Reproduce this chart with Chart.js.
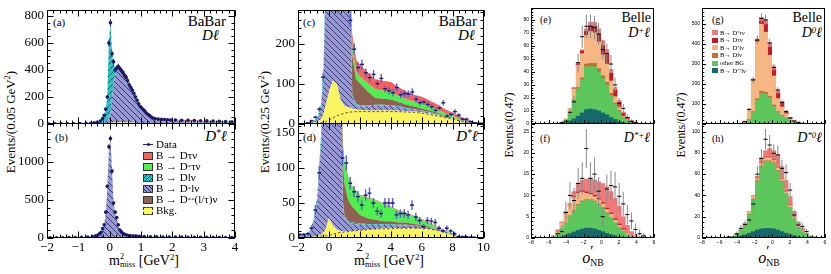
<!DOCTYPE html>
<html>
<head>
<meta charset="utf-8">
<title>B to D(*) tau nu: BaBar and Belle fits</title>
<script src="https://cdn.jsdelivr.net/npm/chart.js@4.4.1/dist/chart.umd.min.js"></script>
<style>
  html, body { margin: 0; padding: 0; background: #fff; }
  body { width: 831px; height: 274px; position: relative; overflow: hidden; font-family: "Liberation Serif", "DejaVu Serif", serif; color: #000; }
  canvas { position: absolute; }
  sup { font-size: 0.62em; vertical-align: 0.5em; line-height: 0; }
  .t { position: absolute; white-space: nowrap; line-height: 1; }
  .it { font-style: italic; }
  .ss { display: inline-block; vertical-align: -0.32em; font-size: 0.6em; line-height: 1; font-style: normal; }
  .pr { font-size: 1.5em; line-height: 0.6; display: inline-block; }
  .yt { position: absolute; white-space: nowrap; line-height: 1; transform: translate(-50%, -50%) rotate(-90deg); }
  .xt { position: absolute; white-space: nowrap; line-height: 1; transform: translateX(-50%); }
  .leg { position: absolute; font-size: 11px; line-height: 1; z-index: 5; }
  .leg div { height: 11px; display: flex; align-items: center; white-space: nowrap; }
  .leg .sw { width: 10px; height: 8px; box-sizing: border-box; border: 1px solid #333; margin-right: 3px; flex: none; }
  .leg .dat { border: none; position: relative; background: linear-gradient(#1b1b68, #1b1b68) center / 100% 1px no-repeat; }
  .leg .dat i { position: absolute; left: 3.5px; top: 2.5px; width: 3px; height: 3px; border-radius: 50%; background: #1b1b68; }
  .bl { font-size: 6.5px; }
  .bl div { height: 7.6px; }
  .bl .sw { width: 6px; height: 5px; border: none; margin-right: 2px; }
</style>
</head>
<body>

<!-- panel labels -->
<div class="t" style="left:53px;top:17px;font-size:11px">(a)</div>
<div class="t" style="right:605px;top:14px;font-size:15px">BaBar</div>
<div class="t it" style="right:612px;top:28px;font-size:15px">Dℓ</div>
<div class="t" style="left:55px;top:132px;font-size:11px">(b)</div>
<div class="t it" style="right:604px;top:129px;font-size:15px">D<sup>*</sup>ℓ</div>

<div class="t" style="left:303px;top:17px;font-size:11px">(c)</div>
<div class="t" style="right:354px;top:14px;font-size:15px">BaBar</div>
<div class="t it" style="right:356px;top:28px;font-size:15px">Dℓ</div>
<div class="t" style="left:303px;top:132px;font-size:11px">(d)</div>
<div class="t it" style="right:353px;top:129px;font-size:15px">D<sup>*</sup>ℓ</div>

<div class="t" style="left:540px;top:15px;font-size:10px">(e)</div>
<div class="t" style="right:180px;top:11px;font-size:14px">Belle</div>
<div class="t it" style="right:181px;top:26px;font-size:14px">D<sup>+</sup>ℓ</div>
<div class="t" style="left:540px;top:134px;font-size:10px">(f)</div>
<div class="t it" style="right:181px;top:131px;font-size:14px">D<sup>*+</sup>ℓ</div>

<div class="t" style="left:712px;top:15px;font-size:10px">(g)</div>
<div class="t" style="right:9px;top:11px;font-size:14px">Belle</div>
<div class="t it" style="right:9px;top:26px;font-size:14px">D<sup>0</sup>ℓ</div>
<div class="t" style="left:712px;top:134px;font-size:10px">(h)</div>
<div class="t it" style="right:9px;top:131px;font-size:14px">D<sup>*0</sup>ℓ</div>

<!-- axis titles -->
<div class="yt" style="left:10px;top:122px;font-size:13px">Events/(0.05 GeV<sup>2</sup>)</div>
<div class="yt" style="left:264px;top:122px;font-size:13px">Events/(0.25 GeV<sup>2</sup>)</div>
<div class="yt" style="left:509px;top:125px;font-size:12px">Events/(0.47)</div>
<div class="yt" style="left:681px;top:125px;font-size:12px">Events/(0.47)</div>
<div class="xt" style="left:144px;top:253px;font-size:14px">m<span class="ss">2<br>miss</span> [GeV<sup>2</sup>]</div>
<div class="xt" style="left:389px;top:253px;font-size:14px">m<span class="ss">2<br>miss</span> [GeV<sup>2</sup>]</div>
<div class="xt it" style="left:593px;top:247px;font-size:16px">o<span class="ss"><span class="pr">′</span><br>NB</span></div>
<div class="xt it" style="left:769px;top:247px;font-size:16px">o<span class="ss"><span class="pr">′</span><br>NB</span></div>

<!-- legends -->
<div class="leg" style="left:143px;top:139px">
  <div><span class="sw dat"><i></i></span>Data</div>
  <div><span class="sw" style="background:rgb(246,98,98)"></span>B → Dτν</div>
  <div><span class="sw" style="background:rgb(80,238,80)"></span>B → D<sup>*</sup>τν</div>
  <div><span class="sw" style="background:repeating-linear-gradient(135deg,rgb(34,200,200) 0 2px,#0e3f48 2px 2.8px)"></span>B → Dlν</div>
  <div><span class="sw" style="background:repeating-linear-gradient(45deg,rgb(152,152,212) 0 2px,#23235c 2px 2.8px)"></span>B → D<sup>*</sup>lν</div>
  <div><span class="sw" style="background:rgb(142,98,80)"></span>B → D<sup>**</sup>(l/τ)ν</div>
  <div><span class="sw" style="background:rgb(250,244,96);border-style:dashed"></span>Bkg.</div>
</div>
<div class="leg bl" style="left:712px;top:29px">
  <div><span class="sw" style="background:rgb(240,122,122)"></span>B→ D<sup>*</sup>τν</div>
  <div><span class="sw" style="background:rgb(190,28,38)"></span>B→ Dτν</div>
  <div><span class="sw" style="background:rgb(246,182,132)"></span>B→ D<sup>*</sup>lν</div>
  <div><span class="sw" style="background:rgb(198,112,46)"></span>B→ Dlν</div>
  <div><span class="sw" style="background:rgb(92,198,92)"></span>other BG</div>
  <div><span class="sw" style="background:rgb(22,104,106)"></span>B→ D<sup>**</sup>lν</div>
</div>

<script>
// ---------------- BaBar (a): D l, m2miss, 0.05 GeV2 bins ----------------
const aGrid  = [-2,-1,-0.6,-0.4,-0.3,-0.2,-0.125,-0.075,-0.025,0.025,0.075,0.125,0.175,0.225,0.3,0.4,0.5,0.6,0.7,0.8,0.9,1.0,1.1,1.2,1.3,1.4,1.6,2.0,2.5,3.0,3.5,4.0];
const aBkg   = [0,0,0,0,1,2,3,5,6,8,10,11,12,12,12,12,12,11,11,10,8,6,5,5,4,4,3,3,3,2,2,2];
const aDsl   = [0,1,2,3,4,8,15,25,40,70,190,290,350,385,395,375,330,280,240,195,150,110,85,60,42,25,17,14,10,8,6,5];
const aDl    = [0,1,2,6,20,50,90,170,550,680,320,150,50,25,15,10,8,6,5,4,4,3,3,3,3,3,3,3,3,2,2,2];
const aDss   = [0,0,0,0,0,0,0,0,0,0,0,1,1,1,1,2,2,2,2,2,3,3,3,3,3,4,4,4,3,3,2,2];
const aDstau = [0,0,0,0,0,0,0,0,0,0,0,0,0,0,0,1,1,1,1,2,2,2,2,2,3,3,3,4,4,3,3,2];
const aDtau  = [0,0,0,0,0,0,0,0,0,0,0,0,0,0,1,1,2,2,2,3,3,4,4,5,5,6,6,6,6,6,5,4];
const aDataX = [-1.95,-1.75,-1.55,-1.35,-1.15,-0.95,-0.75,-0.6,-0.5,-0.4,-0.3,-0.225,-0.175,-0.125,-0.075,-0.025,0.025,0.075,0.125,0.175,0.225,0.275,0.325,0.375,0.425,0.475,0.525,0.575,0.625,0.675,0.725,0.775,0.825,0.875,0.925,0.975,1.025,1.075,1.125,1.175,1.225,1.275,1.325,1.375,1.45,1.55,1.65,1.75,1.85,1.95,2.1,2.3,2.5,2.7,2.9,3.1,3.3,3.5,3.7,3.9];
const aDataY = [0,1,1,2,2,3,4,6,9,12,22,40,65,110,200,600,750,520,460,400,415,425,410,395,380,360,345,320,290,270,250,225,200,175,150,130,118,105,95,80,70,62,52,44,40,36,34,33,32,30,29,28,27,25,24,23,22,20,18,16];
const aErr   = [1,1,1,1,1,2,2,2,3,3,5,6,8,10,14,25,27,23,21,20,20,21,20,20,19,19,19,18,17,16,16,15,14,13,12,11,11,10,10,9,8,8,7,7,6,6,6,6,6,5,5,5,5,5,5,5,5,4,4,4];

// ---------------- BaBar (b): D* l ----------------
const bGrid  = [-2,-1,-0.6,-0.45,-0.35,-0.275,-0.225,-0.175,-0.125,-0.075,-0.025,0.025,0.075,0.125,0.175,0.225,0.275,0.325,0.4,0.5,0.6,0.8,1.0,1.5,2,3,4];
const bBkg   = [0,1,3,4,5,5,6,6,7,8,8,8,8,8,8,7,7,6,6,5,5,4,4,3,3,2,2];
const bDsl   = [2,6,16,24,42,66,110,170,318,636,1135,1285,885,455,315,257,168,99,54,35,25,16,11,7,4,3,2];
const bDl    = [0,1,1,2,3,4,4,4,5,6,7,7,7,7,7,6,5,5,4,4,4,3,3,2,2,1,1];
const bDss   = [0,0,0,0,0,0,0,0,0,0,0,0,0,0,0,0,1,1,1,2,2,2,2,2,2,2,1];
const bDstau = [0,0,0,0,0,0,0,0,0,0,0,0,0,0,0,0,0,1,1,1,2,2,2,2,2,1,1];
const bDtau  = [0,0,0,0,0,0,0,0,0,0,0,0,0,0,0,0,0,0,0,1,1,1,1,1,1,1,0];
const bDataX = [-1.9,-1.7,-1.5,-1.3,-1.1,-0.9,-0.7,-0.55,-0.45,-0.375,-0.325,-0.275,-0.225,-0.175,-0.125,-0.075,-0.025,0.025,0.075,0.125,0.175,0.225,0.275,0.325,0.375,0.425,0.475,0.55,0.65,0.75,0.85,0.95,1.1,1.3,1.5,1.7,1.9,2.1,2.3,2.5,2.7,2.9,3.1,3.3,3.5,3.7,3.9];
const bDataY = [2,3,4,5,6,8,12,18,28,40,55,75,125,175,340,680,1200,1310,880,460,340,270,175,105,80,60,50,40,33,28,25,22,20,17,15,14,13,12,11,10,10,9,8,8,7,6,6];
const bErr   = [1,2,2,2,2,3,3,4,5,6,7,9,11,13,18,26,35,36,30,21,18,16,13,10,9,8,7,6,6,5,5,5,4,4,4,4,4,3,3,3,3,3,3,3,3,2,2];

// ---------------- BaBar (c): D l, 0.25 GeV2 bins ----------------
const cGrid  = [-2,-1.5,-1,-0.75,-0.5,-0.35,-0.25,0,0.25,0.5,0.75,1.0,1.25,1.4,1.5,1.75,2,2.5,3,3.5,4,4.5,5,5.5,6,6.5,7,7.5,8,8.5,9,9.5,10];
const cBkg   = [0,1,3,6,12,25,40,80,108,100,60,45,42,40,38,36,35,34,34,34,34,33,32,31,29,26,22,17,13,8,4,2,1];
const cDsl   = [0,1,3,6,30,95,250,1500,2000,1800,1200,700,400,250,30,12,9,10,12,12,11,10,6,5,4,3,2,1,1,0,0,0,0];
const cDl    = [0,0,1,4,10,30,40,300,300,200,100,50,20,10,5,3,2,2,2,2,2,2,2,1,1,1,1,0,0,0,0,0,0];
const cDss   = [0,0,0,0,0,0,0,5,10,10,10,10,15,25,100,60,55,35,17,15,14,10,8,7,5,4,3,2,1,0,0,0,0];
const cDstau = [0,0,0,0,0,0,0,0,0,5,10,15,15,15,20,20,17,20,21,20,19,15,13,11,12,10,8,6,5,3,2,1,0];
const cDtau  = [0,0,0,0,0,0,0,0,0,5,10,15,20,25,30,30,30,28,25,25,25,22,20,18,17,15,13,11,8,7,4,1,1];
const cCont  = [0,0,1,2,3,4,5,10,15,20,24,27,29,30,30,31,31,31,31,31,31,31,30,29,27,24,20,16,12,7,4,2,1];
const cDataX = [-1.875,-1.625,-1.375,-1.125,-0.875,-0.625,-0.375,1.375,1.625,1.875,2.125,2.375,2.625,2.875,3.125,3.375,3.625,3.875,4.125,4.375,4.625,4.875,5.125,5.375,5.625,5.875,6.125,6.375,6.625,6.875,7.125,7.375,7.625,7.875,8.125,8.375,8.625,8.875,9.125,9.375,9.625,9.875];
const cDataY = [0,1,3,8,17,37,117,259,187,141,149,128,116,124,101,114,88,83,78,91,73,76,75,80,62,53,55,49,43,34,40,53,20,24,31,22,12,12,6,3,2,2];
const cErr   = [1,1,2,3,4,6,11,16,14,12,12,11,11,11,10,11,9,9,9,10,9,9,9,9,8,7,7,7,7,6,6,7,5,5,6,5,4,4,3,2,2,2];

// ---------------- BaBar (d): D* l ----------------
const dGrid  = [-2,-1.5,-1.25,-1,-0.75,-0.5,-0.25,0,0.25,0.5,0.75,0.9,1.0,1.25,1.5,2,2.5,3,3.5,4,4.5,5,5.5,6,6.5,7,7.5,8,8.5,9,10];
const dBkg   = [0,0,1,2,3,5,10,28,18,12,10,10,10,10,10,11,12,13,14,14,14,14,14,14,13,11,8,5,2,1,0];
const dDsl   = [2,4,7,19,50,130,500,1200,1500,1000,300,40,20,12,10,8,7,6,5,5,4,4,3,3,2,1,1,0,0,0,0];
const dDl    = [1,1,2,4,7,15,40,60,40,20,5,3,2,2,2,2,1,1,1,1,1,1,1,0,0,0,0,0,0,0,0];
const dDss   = [0,0,0,0,0,0,0,5,10,20,40,60,46,30,23,12,8,6,4,4,3,3,2,2,1,1,0,0,0,0,0];
const dDstau = [0,0,0,0,0,0,0,5,10,15,20,26,33,33,29,28,29,28,25,20,17,13,11,7,5,2,1,1,0,0,0];
const dDtau  = [0,0,0,0,0,0,0,1,1,1,1,1,1,1,1,1,1,1,1,1,1,1,1,1,1,1,1,0,0,0,0];
const dCont  = [0,0,1,1,2,3,3,4,5,7,8,8,9,9,10,11,12,13,13,13,14,14,14,14,13,11,8,5,2,1,0];
const dDataX = [-1.875,-1.625,-1.375,-1.125,-0.875,-0.625,0.875,1.125,1.375,1.625,1.875,2.125,2.375,2.625,2.875,3.125,3.375,3.625,3.875,4.125,4.375,4.625,4.875,5.125,5.375,5.625,5.875,6.125,6.375,6.625,6.875,7.125,7.375,7.625,7.875,8.125,8.375,8.625,8.875,9.125,9.375,9.625,9.875];
const dDataY = [5,5,6,14,40,93,114,107,78,66,59,47,61,64,50,38,35,50,50,50,33,35,35,33,47,30,25,16,25,24,22,14,10,14,10,6,2,2,2,1,1,0,0];
const dErr   = [2,2,3,4,7,10,11,11,9,8,8,7,8,8,7,6,6,7,7,7,6,6,6,6,7,6,5,4,5,5,5,4,3,4,3,3,2,2,2,1,1,1,1];

// ---------------- Belle: o'_NB bin centres (30 bins, width 0.47) ----------------
const belleBins = [-7.7667,-7.3,-6.8333,-6.3667,-5.9,-5.4333,-4.9667,-4.5,-4.0333,-3.5667,-3.1,-2.6333,-2.1667,-1.7,-1.2333,-0.7667,-0.3,0.1667,0.6333,1.1,1.5667,2.0333,2.5,2.9667,3.4333,3.9,4.3667,4.8333,5.3,5.7667];

// (e) D+ l
const eDss   = [0,0,0,0,0,0,0.2,0.5,1,2.5,4,6,8.5,11,11.5,11,10,8.5,7,5,3.5,2,1.2,0.6,0.3,0.1,0,0,0,0];
const eOther = [0,0,0,0,0,0,0,0.5,2,5.5,14,21,25.5,33,32.5,33,30,26.5,23,17,11.5,8,3.8,2.4,1.2,0.5,0.3,0,0,0];
const eDl    = [0,0,0,0,0,0,0,0,0,0,0.5,1,1.5,2,2.5,2.5,2.5,2,2,1.5,1,0.5,0.3,0,0,0,0,0,0,0];
const eDsl   = [0,0,0,0,0,0,0,0,1,4,8.5,17,18.5,22,24.5,23.5,20.5,16,14,9.5,5,2.5,0.7,0.5,0.3,0.2,0,0,0,0];
const eDtau  = [0,0,0,0,0,0,0,0,0,0,0.5,1,2,3,4,5,6,7,7,6,5,3.5,2,1,0.5,0.2,0,0,0,0];
const eDstau = [0,0,0,0,0,0,0,0,0,0,0.5,1,1,2,3,3,4,4,4,3,2,1.5,1,0.5,0.2,0.1,0,0,0,0];
const eData  = [0,0,0,0,0,0,0,1,2,9,17,47,67,75,75,74,69,57,54,46,30,16,12,5,2,1,0,0,0,0];
const eErr   = [0,0,0,0,0,0,0,1,1.5,3,4.5,7,8.5,9,9,9,8.5,7.5,7.5,7,5.5,4,3.5,2.2,1.4,1,0,0,0,0];

// (f) D*+ l
const fDss   = [0,0,0,0,0,0,0.1,0.3,0.6,1,1.4,1.8,2.1,2.3,2.3,2.1,1.8,1.5,1.1,0.8,0.5,0.3,0.2,0.1,0,0,0,0,0,0];
const fOther = [0,0,0,0,0,0.2,0.9,1.9,2.9,4,4.8,5.9,6.4,6.5,6.5,6.4,5.9,5.4,4.6,4,3.1,2.2,1.4,0.7,0.4,0.1,0,0,0,0];
const fDl    = [0,0,0,0,0,0,0,0,0,0.2,0.2,0.2,0.2,0.2,0.2,0.2,0.2,0.2,0.2,0,0,0,0,0,0,0,0,0,0,0];
const fDsl   = [0,0,0,0,0,0,0.5,1.3,2,2.3,3.1,2.6,2.1,1.5,1.2,1,1.1,0.9,0.8,0.8,0.6,0.5,0.3,0.2,0.1,0,0,0,0,0];
const fDtau  = [0,0,0,0,0,0,0,0,0,0,0.3,0.3,0.3,0.3,0.3,0.3,0.3,0.3,0.3,0.3,0.3,0.3,0.3,0,0,0,0,0,0,0];
const fDstau = [0,0,0,0,0.2,0.3,0.4,0.3,0.7,0.6,1.1,2,2.5,3,3.5,3.6,3.9,4.5,5,5,4.8,4.1,2.8,2,1,0.5,0.2,0,0,0];
const fData  = [0,0,0,0,0,0,1,1.5,6,10,8.8,12.8,14,21,14,15,11,5,11.5,12.3,12,9.8,8,5.5,4,2,1,0.5,0,0];
const fErr   = [0,0,0,0,0,0,1,1.5,2.5,3.2,3,3.6,3.8,4.6,3.8,3.9,3.3,2.2,3.4,3.5,3.5,3.1,2.8,2.3,2,1.4,1,0.7,0,0];

// (g) D0 l
const gDss   = [0,0,0,0,0,0,0,0,0,0,0,1,2,3,4,4,3,3,2,2,1,1,0.5,0,0,0,0,0,0,0];
const gOther = [0,0,0,0,0,0,0,0,0,1,3,20,55,115,150,145,128,85,55,38,28,15,8,4,2,1,0.5,0,0,0];
const gDl    = [0,0,0,0,0,0,0,0,0,0,0,2,5,8,10,10,8,7,5,3,2,1,0.5,0,0,0,0,0,0,0];
const gDsl   = [0,0,0,0,0,0,0,0,1,2,12,50,158,285,335,300,205,145,65,42,20,9,4,2.5,1.5,1,0.5,0,0,0];
const gDtau  = [0,0,0,0,0,0,0,0,0,0,0,0,3,8,15,40,40,30,25,18,8,4,1.5,1,0.5,0,0,0,0,0];
const gDstau = [0,0,0,0,0,0,0,0,0,0,0,0,2,6,18,24,23,20,16,12,6,2,0.5,0.5,0,0,0,0,0,0];
const gData  = [0,0,0,0,0,0,0,0,0,3,12,73,220,420,528,520,405,282,170,107,62,30,15,8,3,1,0,0,0,0];
const gErr   = [0,0,0,0,0,0,0,0,0,2,4,9,16,22,25,25,22,18,14,11,8,6,4,3,2,1,0,0,0,0];

// (h) D*0 l
const hDss   = [0,0,0,0,0,0,0.3,0.5,1,2,3,4.5,6,7.5,8.5,9,9,8.5,7.5,6,4.5,3,2,1.2,0.6,0.3,0,0,0,0];
const hOther = [0,0,0,0,0,0.3,0.4,1,2.5,5,9,17.5,30,45.5,58.5,63,63,61.5,55.5,47,36.5,25,15,8.8,5.4,2.7,1.5,0.7,0.3,0];
const hDl    = [0,0,0,0,0,0,0,0,0,0,0.5,0.5,0.5,0.5,0.5,0.5,0.5,0.5,0.5,0.5,0.5,0.5,0.5,0,0,0,0,0,0,0];
const hDsl   = [0,0,0,0,0,0,0,0,0.5,0.7,1.2,2,2.5,3,3,3,3,2.5,2.5,2,2,2,1.5,1,0.6,0.3,0,0,0,0];
const hDtau  = [0,0,0,0,0,0,0,0,0,0,0,0,0,0.5,0.5,0.5,0.5,0.5,0.5,0.5,0.5,0.5,0,0,0,0,0,0,0,0];
const hDstau = [0,0,0,0,0,0,0,0,0.4,0.3,0.3,0.5,1,1,4,6,8,8.5,11.5,11,10,8,6,4,2.4,1.1,0.5,0.3,0,0];
const hData  = [0,0.5,0,0,0,0.3,1,0.5,4,9,12.8,16.9,31.9,60,74.8,92.7,87.3,79.5,78,65.4,61.4,45,21.6,12.2,10.6,6,0.7,0.5,0.3,0];
const hErr   = [0,0.7,0,0,0,0.5,1,0.7,2,3,3.6,4.1,5.6,7.7,8.6,9.6,9.3,8.9,8.8,8.1,7.8,6.7,4.6,3.5,3.3,2.4,0.8,0.7,0.5,0];

// ---------------- tick values ----------------
const babarXTicksAB = [-2,-1,0,1,2,3,4];
const babarXTicksCD = [-2,0,2,4,6,8,10];
const belleXTicks   = [-8,-6,-4,-2,0,2,4,6];
const aYTicks = [0,200,400,600,800];
const bYTicks = [0,500,1000];
const cYTicks = [0,100,200];
const dYTicks = [0,50,100,150];
const eYTicks = [0,10,20,30,40,50,60,70,80];
const fYTicks = [0,5,10,15,20,25];
const gYTicks = [0,100,200,300,400,500];
const hYTicks = [0,20,40,60,80,100];

// ---------------- styles ----------------
const C = { red: 'rgb(246,98,98)', green: 'rgb(80,238,80)', cyan: 'rgb(34,200,200)', lav: 'rgb(152,152,212)',
            brown: 'rgb(142,98,80)', bkg: 'rgb(250,244,96)', navy: '#1b1b68' };
const BC = [ 'rgb(22,104,106)', 'rgb(92,198,92)', 'rgb(198,112,46)', 'rgb(246,182,132)', 'rgb(190,28,38)', 'rgb(240,122,122)' ];

Chart.defaults.animation = false;
Chart.defaults.font.family = '"Liberation Serif", "DejaVu Serif", serif';
Chart.defaults.color = '#000';
Chart.defaults.plugins.legend.display = false;
Chart.defaults.plugins.tooltip.enabled = false;

const pts = (xs, ys) => xs.map((x, i) => ({ x, y: ys[i] }));

function hatch(ctx, bg, fg, dir) {
    const s = 6;
    const tile = document.createElement('canvas');
    tile.width = tile.height = s;
    const g = tile.getContext('2d');
    g.fillStyle = bg;
    g.fillRect(0, 0, s, s);
    g.strokeStyle = fg;
    g.lineWidth = 0.8;
    g.beginPath();
    if (dir > 0) {
        g.moveTo(0, s); g.lineTo(s, 0);
        g.moveTo(-1, 1); g.lineTo(1, -1);
        g.moveTo(s - 1, s + 1); g.lineTo(s + 1, s - 1);
    } else {
        g.moveTo(0, 0); g.lineTo(s, s);
        g.moveTo(s - 1, -1); g.lineTo(s + 1, 1);
        g.moveTo(-1, s - 1); g.lineTo(1, s + 1);
    }
    g.stroke();
    return ctx.createPattern(tile, 'repeat');
}

function stepsOf(min, max, st) {
    const out = [];
    for (let v = Math.ceil(min / st - 1e-9) * st; v <= max + 1e-9; v += st) out.push(v);
    return out;
}

// frame box with inward ticks, ROOT style
const frameTicks = {
    id: 'frameTicks',
    afterDraw(chart, args, o) {
        const { ctx, chartArea: a, scales: { x, y } } = chart;
        const l = Math.round(a.left) + 0.5, r = Math.round(a.right) - 0.5;
        const t = Math.round(a.top) + 0.5, b = Math.round(a.bottom) - 0.5;
        ctx.save();
        ctx.strokeStyle = '#000';
        ctx.lineWidth = 1;
        ctx.strokeRect(l, t, r - l, b - t);
        ctx.beginPath();
        const markX = (vals, len) => vals.forEach(v => {
            const p = Math.round(x.getPixelForValue(v)) + 0.5;
            ctx.moveTo(p, b); ctx.lineTo(p, b - len);
            if (o.mirror) { ctx.moveTo(p, t); ctx.lineTo(p, t + len); }
        });
        const markY = (vals, len) => vals.forEach(v => {
            const p = Math.round(y.getPixelForValue(v)) + 0.5;
            ctx.moveTo(l, p); ctx.lineTo(l + len, p);
            if (o.mirror) { ctx.moveTo(r, p); ctx.lineTo(r - len, p); }
        });
        markX(o.xMajor, o.major);
        markX(stepsOf(x.min, x.max, o.xStep), o.minor);
        markY(o.yMajor, o.major);
        markY(stepsOf(y.min, y.max, o.yStep), o.minor);
        ctx.stroke();
        ctx.restore();
    }
};

// vertical error bars and bin-width markers for data sets
const errorBars = {
    id: 'errorBars',
    afterDatasetsDraw(chart) {
        const { ctx, chartArea: a } = chart;
        ctx.save();
        ctx.beginPath();
        ctx.rect(a.left, a.top, a.right - a.left, a.bottom - a.top);
        ctx.clip();
        chart.data.datasets.forEach((ds, i) => {
            if (!ds.errs) return;
            const meta = chart.getDatasetMeta(i);
            const xs = meta.xScale, ys = meta.yScale;
            ds.data.forEach((p, k) => {
                const e = ds.errs[k];
                const px = xs.getPixelForValue(p.x), py = ys.getPixelForValue(p.y);
                if (e > 0) {
                    ctx.strokeStyle = ds.errColor;
                    ctx.lineWidth = ds.errWidth;
                    ctx.beginPath();
                    ctx.moveTo(px, ys.getPixelForValue(p.y - e));
                    ctx.lineTo(px, ys.getPixelForValue(p.y + e));
                    ctx.stroke();
                }
                if (ds.halfW) {
                    ctx.strokeStyle = ds.hColor;
                    ctx.lineWidth = ds.hWidth;
                    ctx.beginPath();
                    ctx.moveTo(xs.getPixelForValue(p.x - ds.halfW), py);
                    ctx.lineTo(xs.getPixelForValue(p.x + ds.halfW), py);
                    ctx.stroke();
                }
            });
        });
        ctx.restore();
    }
};

function axis(min, max, ticks, opt) {
    return {
        type: 'linear', min, max, stacked: opt.stacked, offset: false,
        grid: { display: false, drawTicks: false }, border: { display: false },
        afterBuildTicks: s => { s.ticks = ticks.map(v => ({ value: v })); },
        afterFit: s => { if (opt.horiz) s.height = opt.size; else s.width = opt.size; },
        ticks: { display: opt.show, autoSkip: false, maxRotation: 0, minRotation: 0, padding: opt.pad,
                 color: '#000', font: opt.font, callback: v => String(v).replace('-', '\u2212') }
    };
}

// frame = [left, top, right, bottom] of the plot box in page pixels
function panel(frame, m, showX, type, makeSets, sc, ticks) {
    const cv = document.createElement('canvas');
    cv.width = m[0] + frame[2] - frame[0] + m[2];
    cv.height = m[1] + frame[3] - frame[1] + m[3];
    cv.style.left = (frame[0] - m[0]) + 'px';
    cv.style.top = (frame[1] - m[1]) + 'px';
    document.body.appendChild(cv);
    const ctx = cv.getContext('2d');
    return new Chart(ctx, {
        type,
        data: { datasets: makeSets(ctx) },
        options: {
            responsive: false, devicePixelRatio: 1, events: [],
            layout: { padding: { left: 0, top: m[1], right: m[2], bottom: showX ? 0 : m[3] } },
            scales: {
                x: axis(sc.xMin, sc.xMax, sc.xTicks, { horiz: true, size: showX ? m[3] : 0, show: showX, pad: sc.xPad, font: sc.font, stacked: sc.xStacked }),
                y: axis(0, sc.yMax, sc.yTicks, { horiz: false, size: m[0], show: true, pad: sc.yPad, font: sc.font, stacked: true })
            },
            plugins: { frameTicks: ticks }
        },
        plugins: [frameTicks, errorBars]
    });
}

function babar(p) {
    const m = [40, 12, 8, p.showX ? 22 : 12];
    return panel(p.frame, m, p.showX, 'line', ctx => {
        const fills = [C.bkg, hatch(ctx, C.lav, '#23235c', -1), hatch(ctx, C.cyan, '#0e3f48', 1), C.brown, C.green, C.red];
        const sets = p.layers.map((v, i) => ({
            type: 'line', data: pts(p.grid, v), backgroundColor: fills[i], borderColor: 'rgba(0,0,0,0)',
            borderWidth: 0, pointRadius: 0, tension: 0, fill: i ? '-1' : 'origin', stack: 'mc', order: 2
        }));
        if (p.cont) sets.push({
            type: 'line', data: pts(p.grid, p.cont), borderColor: '#333', borderWidth: 0.8, borderDash: [2.5, 2],
            pointRadius: 0, tension: 0, fill: false, stack: 'cont', order: 1
        });
        sets.push({
            type: 'scatter', data: pts(p.dataX, p.dataY), pointRadius: p.dots ? 1.8 : 0,
            pointBackgroundColor: C.navy, pointBorderWidth: 0, stack: 'data', order: 0,
            errs: p.errs, errColor: p.dots ? C.navy : '#5563cc', errWidth: p.dots ? 1 : 1.4,
            halfW: p.dots ? 0 : 0.125, hColor: C.navy, hWidth: 1.4
        });
        return sets;
    }, {
        xMin: p.xMin, xMax: p.xMax, xTicks: p.xTicks, yMax: p.yMax, yTicks: p.yTicks,
        xPad: 2, yPad: 3, font: { size: 13, family: '"Liberation Serif", serif' }, xStacked: false
    }, { mirror: true, major: 6, minor: 3, xMajor: p.xTicks, xStep: p.xStep, yMajor: p.yTicks, yStep: p.yStep });
}

function belle(p) {
    const m = [22, 12, 6, p.showX ? 14 : 12];
    return panel(p.frame, m, p.showX, 'bar', () => {
        const sets = p.layers.map((v, i) => ({
            type: 'bar', data: pts(belleBins, v.map(z => z || null)), backgroundColor: BC[i],
            borderWidth: 0, barPercentage: 1, categoryPercentage: 1, stack: 'mc', order: 1
        }));
        sets.push({
            type: 'scatter', data: pts(belleBins, p.data), pointRadius: 0, stack: 'data', order: 0,
            errs: p.errs, errColor: '#8a8a8a', errWidth: 1, halfW: 0.2333, hColor: '#000', hWidth: 1
        });
        return sets;
    }, {
        xMin: -8, xMax: 6, xTicks: belleXTicks, yMax: p.yMax, yTicks: p.yTicks,
        xPad: 2, yPad: 2, font: { size: 5, family: '"Liberation Sans", sans-serif' }, xStacked: true
    }, { mirror: false, major: 3.5, minor: 1.8, xMajor: belleXTicks, xStep: 0.5, yMajor: p.yTicks, yStep: p.yStep });
}

babar({ frame: [47, 10, 235, 124], showX: false, grid: aGrid, layers: [aBkg, aDsl, aDl, aDss, aDstau, aDtau],
        dataX: aDataX, dataY: aDataY, errs: aErr, dots: true, xMin: -2, xMax: 4, xTicks: babarXTicksAB, xStep: 0.2,
        yMax: 844, yTicks: aYTicks, yStep: 50 });
babar({ frame: [47, 123, 235, 238], showX: true, grid: bGrid, layers: [bBkg, bDsl, bDl, bDss, bDstau, bDtau],
        dataX: bDataX, dataY: bDataY, errs: bErr, dots: true, xMin: -2, xMax: 4, xTicks: babarXTicksAB, xStep: 0.2,
        yMax: 1513, yTicks: bYTicks, yStep: 100 });
babar({ frame: [298, 10, 484, 124], showX: false, grid: cGrid, layers: [cBkg, cDsl, cDl, cDss, cDstau, cDtau], cont: cCont,
        dataX: cDataX, dataY: cDataY, errs: cErr, dots: false, xMin: -2, xMax: 10, xTicks: babarXTicksCD, xStep: 0.4,
        yMax: 285, yTicks: cYTicks, yStep: 20 });
babar({ frame: [298, 123, 484, 238], showX: true, grid: dGrid, layers: [dBkg, dDsl, dDl, dDss, dDstau, dDtau], cont: dCont,
        dataX: dDataX, dataY: dDataY, errs: dErr, dots: false, xMin: -2, xMax: 10, xTicks: babarXTicksCD, xStep: 0.4,
        yMax: 164, yTicks: dYTicks, yStep: 10 });

belle({ frame: [531, 8, 654, 124], showX: false, layers: [eDss, eOther, eDl, eDsl, eDtau, eDstau],
        data: eData, errs: eErr, yMax: 89, yTicks: eYTicks, yStep: 2 });
belle({ frame: [531, 123, 654, 238], showX: true, layers: [fDss, fOther, fDl, fDsl, fDtau, fDstau],
        data: fData, errs: fErr, yMax: 27, yTicks: fYTicks, yStep: 1 });
belle({ frame: [702, 8, 825, 124], showX: false, layers: [gDss, gOther, gDl, gDsl, gDtau, gDstau],
        data: gData, errs: gErr, yMax: 580, yTicks: gYTicks, yStep: 20 });
belle({ frame: [702, 123, 825, 238], showX: true, layers: [hDss, hOther, hDl, hDsl, hDtau, hDstau],
        data: hData, errs: hErr, yMax: 108, yTicks: hYTicks, yStep: 5 });
</script>
</body>
</html>
